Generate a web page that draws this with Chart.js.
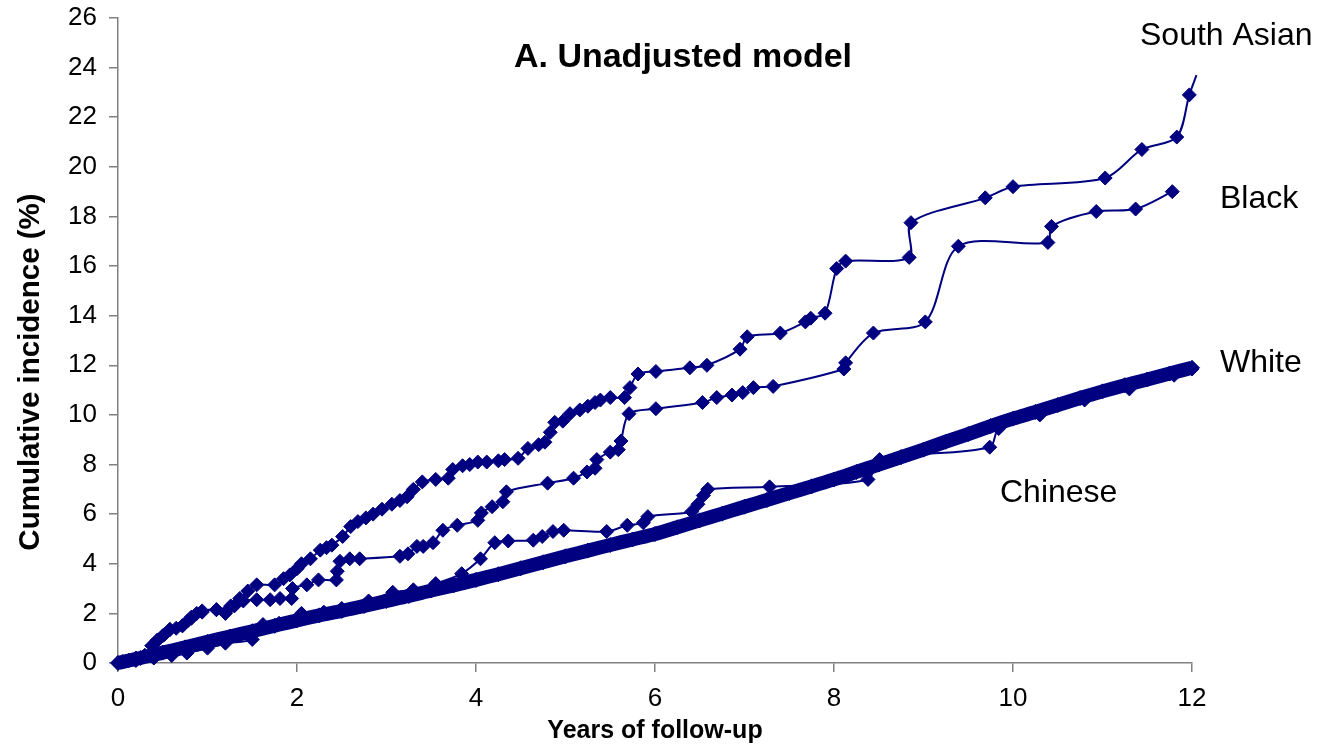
<!DOCTYPE html>
<html>
<head>
<meta charset="utf-8">
<script src="https://cdn.jsdelivr.net/npm/chart.js@4.4.1/dist/chart.umd.min.js"></script>
<style>
html,body{margin:0;padding:0;background:#fff;}
#wrap{width:1332px;height:746px;position:relative;}
</style>
</head>
<body>
<div id="wrap"><canvas id="c" width="1332" height="746"></canvas></div>
<script>
// ---- Data ----
const xTicks = [0, 2, 4, 6, 8, 10, 12];
const yTicks = [0, 2, 4, 6, 8, 10, 12, 14, 16, 18, 20, 22, 24, 26];

const southAsianX = [0,0.05,0.12,0.2,0.3,0.38,0.44,0.5,0.58,0.65,0.72,0.78,0.82,0.88,0.94,1.1,1.2,1.26,1.36,1.45,1.55,1.75,1.85,1.92,2.0,2.05,2.15,2.26,2.33,2.39,2.51,2.6,2.68,2.77,2.85,2.95,3.06,3.15,3.23,3.3,3.4,3.55,3.69,3.74,3.85,3.93,4.02,4.12,4.25,4.32,4.47,4.58,4.7,4.77,4.83,4.88,4.97,5.05,5.16,5.25,5.33,5.39,5.5,5.66,5.72,5.81,6.01,6.39,6.58,6.95,7.03,7.4,7.68,7.74,7.9,8.03,8.13,8.84,8.86,9.69,10.0,11.03,11.44,11.83,11.97,12.05];
const southAsianY = [0,0.05,0.1,0.2,0.3,0.7,0.93,1.1,1.35,1.4,1.5,1.7,1.85,2.0,2.1,2.15,2.05,2.3,2.6,2.9,3.15,3.15,3.4,3.55,3.8,4.0,4.2,4.55,4.65,4.75,5.1,5.5,5.7,5.85,6.0,6.2,6.4,6.55,6.7,7.0,7.3,7.4,7.45,7.8,7.95,8.0,8.1,8.1,8.15,8.2,8.25,8.65,8.8,8.9,9.3,9.7,9.75,10.05,10.2,10.35,10.5,10.6,10.7,10.7,11.1,11.65,11.75,11.9,12.0,12.65,13.15,13.3,13.75,13.9,14.1,15.9,16.2,16.35,17.75,18.75,19.2,19.55,20.7,21.2,22.9,23.7];

const blackX = [0,0.05,0.12,0.2,0.3,0.38,0.44,0.52,0.58,0.72,0.82,0.94,1.1,1.2,1.3,1.4,1.55,1.7,1.81,1.94,1.95,2.11,2.24,2.44,2.45,2.48,2.59,2.7,3.15,3.24,3.34,3.41,3.52,3.63,3.79,4.02,4.06,4.18,4.3,4.34,4.8,5.09,5.24,5.33,5.35,5.5,5.59,5.62,5.71,6.01,6.53,6.69,6.86,6.98,7.1,7.32,8.11,8.13,8.44,9.02,9.39,10.39,10.43,10.93,11.37,11.78];
const blackY = [0,0.05,0.1,0.2,0.3,0.7,0.9,1.15,1.35,1.5,1.8,2.05,2.15,2.0,2.3,2.5,2.55,2.55,2.6,2.6,3.0,3.15,3.35,3.35,3.7,4.1,4.2,4.2,4.3,4.4,4.7,4.7,4.85,5.35,5.55,5.75,6.05,6.3,6.5,6.9,7.25,7.45,7.7,7.85,8.2,8.5,8.6,8.95,10.05,10.25,10.5,10.7,10.8,10.9,11.1,11.15,11.85,12.1,13.3,13.75,16.8,16.95,17.6,18.2,18.3,19.0];

const whiteX = [0,0.25,0.5,0.75,1,1.25,1.5,1.75,2,2.25,2.5,2.75,3,3.25,3.5,3.75,4,4.25,4.5,4.75,5,5.25,5.5,5.75,6,6.25,6.5,6.75,7,7.25,7.5,7.75,8,8.25,8.5,8.75,9,9.25,9.5,9.75,10,10.25,10.5,10.75,11,11.25,11.5,11.75,12];
const whiteY = [0,0.2,0.42,0.63,0.85,1.07,1.28,1.5,1.72,1.92,2.1,2.3,2.5,2.7,2.92,3.13,3.35,3.58,3.82,4.06,4.3,4.53,4.76,4.98,5.2,5.47,5.75,6.02,6.3,6.57,6.85,7.12,7.4,7.7,8.0,8.3,8.6,8.92,9.23,9.55,9.85,10.12,10.4,10.68,10.95,11.2,11.43,11.67,11.9];

const chineseX = [0,0.2,0.4,0.6,0.77,1.0,1.2,1.5,1.62,1.8,2.05,2.3,2.5,2.8,3.07,3.3,3.55,3.84,4.05,4.21,4.36,4.64,4.74,4.86,4.98,5.46,5.69,5.87,5.92,6.41,6.48,6.54,6.59,7.28,8.38,8.51,9.74,9.84,10.3,10.8,11.3,11.8,12.0];
const chineseY = [0,0.1,0.2,0.3,0.4,0.6,0.8,0.95,1.55,1.6,2.0,2.05,2.2,2.5,2.85,2.95,3.2,3.6,4.2,4.85,4.92,4.95,5.1,5.3,5.35,5.3,5.55,5.65,5.9,6.1,6.4,6.75,7.0,7.1,7.4,8.2,8.7,9.45,10.0,10.6,11.05,11.6,11.85];

const seriesNames = ['South Asian', 'Black', 'White', 'Chinese'];
// ---- end data ----

const NAVY = '#000080';
const pts = (xs, ys) => xs.map((x, i) => ({x: x, y: ys[i]}));
const R = 7;

function ds(label, xs, ys, extra) {
  return Object.assign({
    label: label,
    data: pts(xs, ys),
    borderColor: NAVY,
    backgroundColor: NAVY,
    borderWidth: 2,
    pointStyle: 'rectRot',
    pointRadius: R,
    pointBorderWidth: 1,
    pointBorderColor: NAVY,
    pointBackgroundColor: NAVY,
    tension: 0.3,
    clip: false,
    fill: false
  }, extra || {});
}

const labelsPlugin = {
  id: 'textLabels',
  afterDatasetsDraw(chart) {
    const ctx = chart.ctx;
    ctx.save();
    ctx.fillStyle = '#000';
    ctx.textBaseline = 'middle';
    ctx.font = 'bold 34px "Liberation Sans", Arial, sans-serif';
    ctx.textAlign = 'center';
    ctx.fillText('A. Unadjusted model', 683, 58);
    ctx.font = '32px "Liberation Sans", Arial, sans-serif';
    ctx.textAlign = 'left';
    ctx.fillText(seriesNames[0], 1140, 36);
    ctx.fillText(seriesNames[1], 1220, 199);
    ctx.fillText(seriesNames[2], 1220, 363);
    ctx.fillText(seriesNames[3], 1000, 493);
    // y-axis title
    ctx.translate(31, 372);
    ctx.rotate(-Math.PI / 2);
    ctx.textAlign = 'center';
    ctx.font = 'bold 29.5px "Liberation Sans", Arial, sans-serif';
    ctx.fillText('Cumulative incidence (%)', 0, 0);
    ctx.restore();
  }
};

new Chart(document.getElementById('c'), {
  type: 'line',
  data: {
    datasets: [
      ds(seriesNames[2], whiteX, whiteY, {borderWidth: 14, pointRadius: 7.5}),
      ds(seriesNames[3], chineseX, chineseY),
      ds(seriesNames[1], blackX, blackY),
      ds(seriesNames[0], southAsianX, southAsianY, {
        pointRadius: (c) => (c.dataIndex === southAsianX.length - 1 ? 0 : R)
      })
    ]
  },
  options: {
    responsive: false,
    animation: false,
    devicePixelRatio: 1,
    layout: {padding: {left: 0, right: 140, top: 18, bottom: 0}},
    plugins: {
      legend: {display: false},
      tooltip: {enabled: false},
      title: {display: false}
    },
    scales: {
      x: {
        type: 'linear',
        min: 0, max: 12,
        afterBuildTicks: (s) => { s.ticks = xTicks.map(v => ({value: v})); },
        afterFit: (s) => { s.height = 83; s.paddingLeft = 0; s.paddingRight = 0; },
        grid: {drawOnChartArea: false, drawTicks: true, tickLength: 9, color: '#808080', lineWidth: 1.5},
        border: {display: true, color: '#808080', width: 1.5},
        ticks: {color: '#000', padding: 11, font: {family: '"Liberation Sans", Arial, sans-serif', size: 26}, maxRotation: 0},
        title: {display: true, text: 'Years of follow-up', color: '#000', padding: {top: 0, bottom: 0},
          font: {family: '"Liberation Sans", Arial, sans-serif', size: 25, weight: 'bold'}}
      },
      y: {
        type: 'linear',
        min: 0, max: 26,
        afterBuildTicks: (s) => { s.ticks = yTicks.map(v => ({value: v})); },
        afterFit: (s) => { s.width = 118; s.paddingTop = 0; s.paddingBottom = 0; },
        grid: {drawOnChartArea: false, drawTicks: true, tickLength: 9, color: '#808080', lineWidth: 1.5},
        border: {display: true, color: '#808080', width: 1.5},
        ticks: {color: '#000', padding: 12, font: {family: '"Liberation Sans", Arial, sans-serif', size: 26}},
        title: {display: false}
      }
    }
  },
  plugins: [labelsPlugin]
});
</script>
</body>
</html>
